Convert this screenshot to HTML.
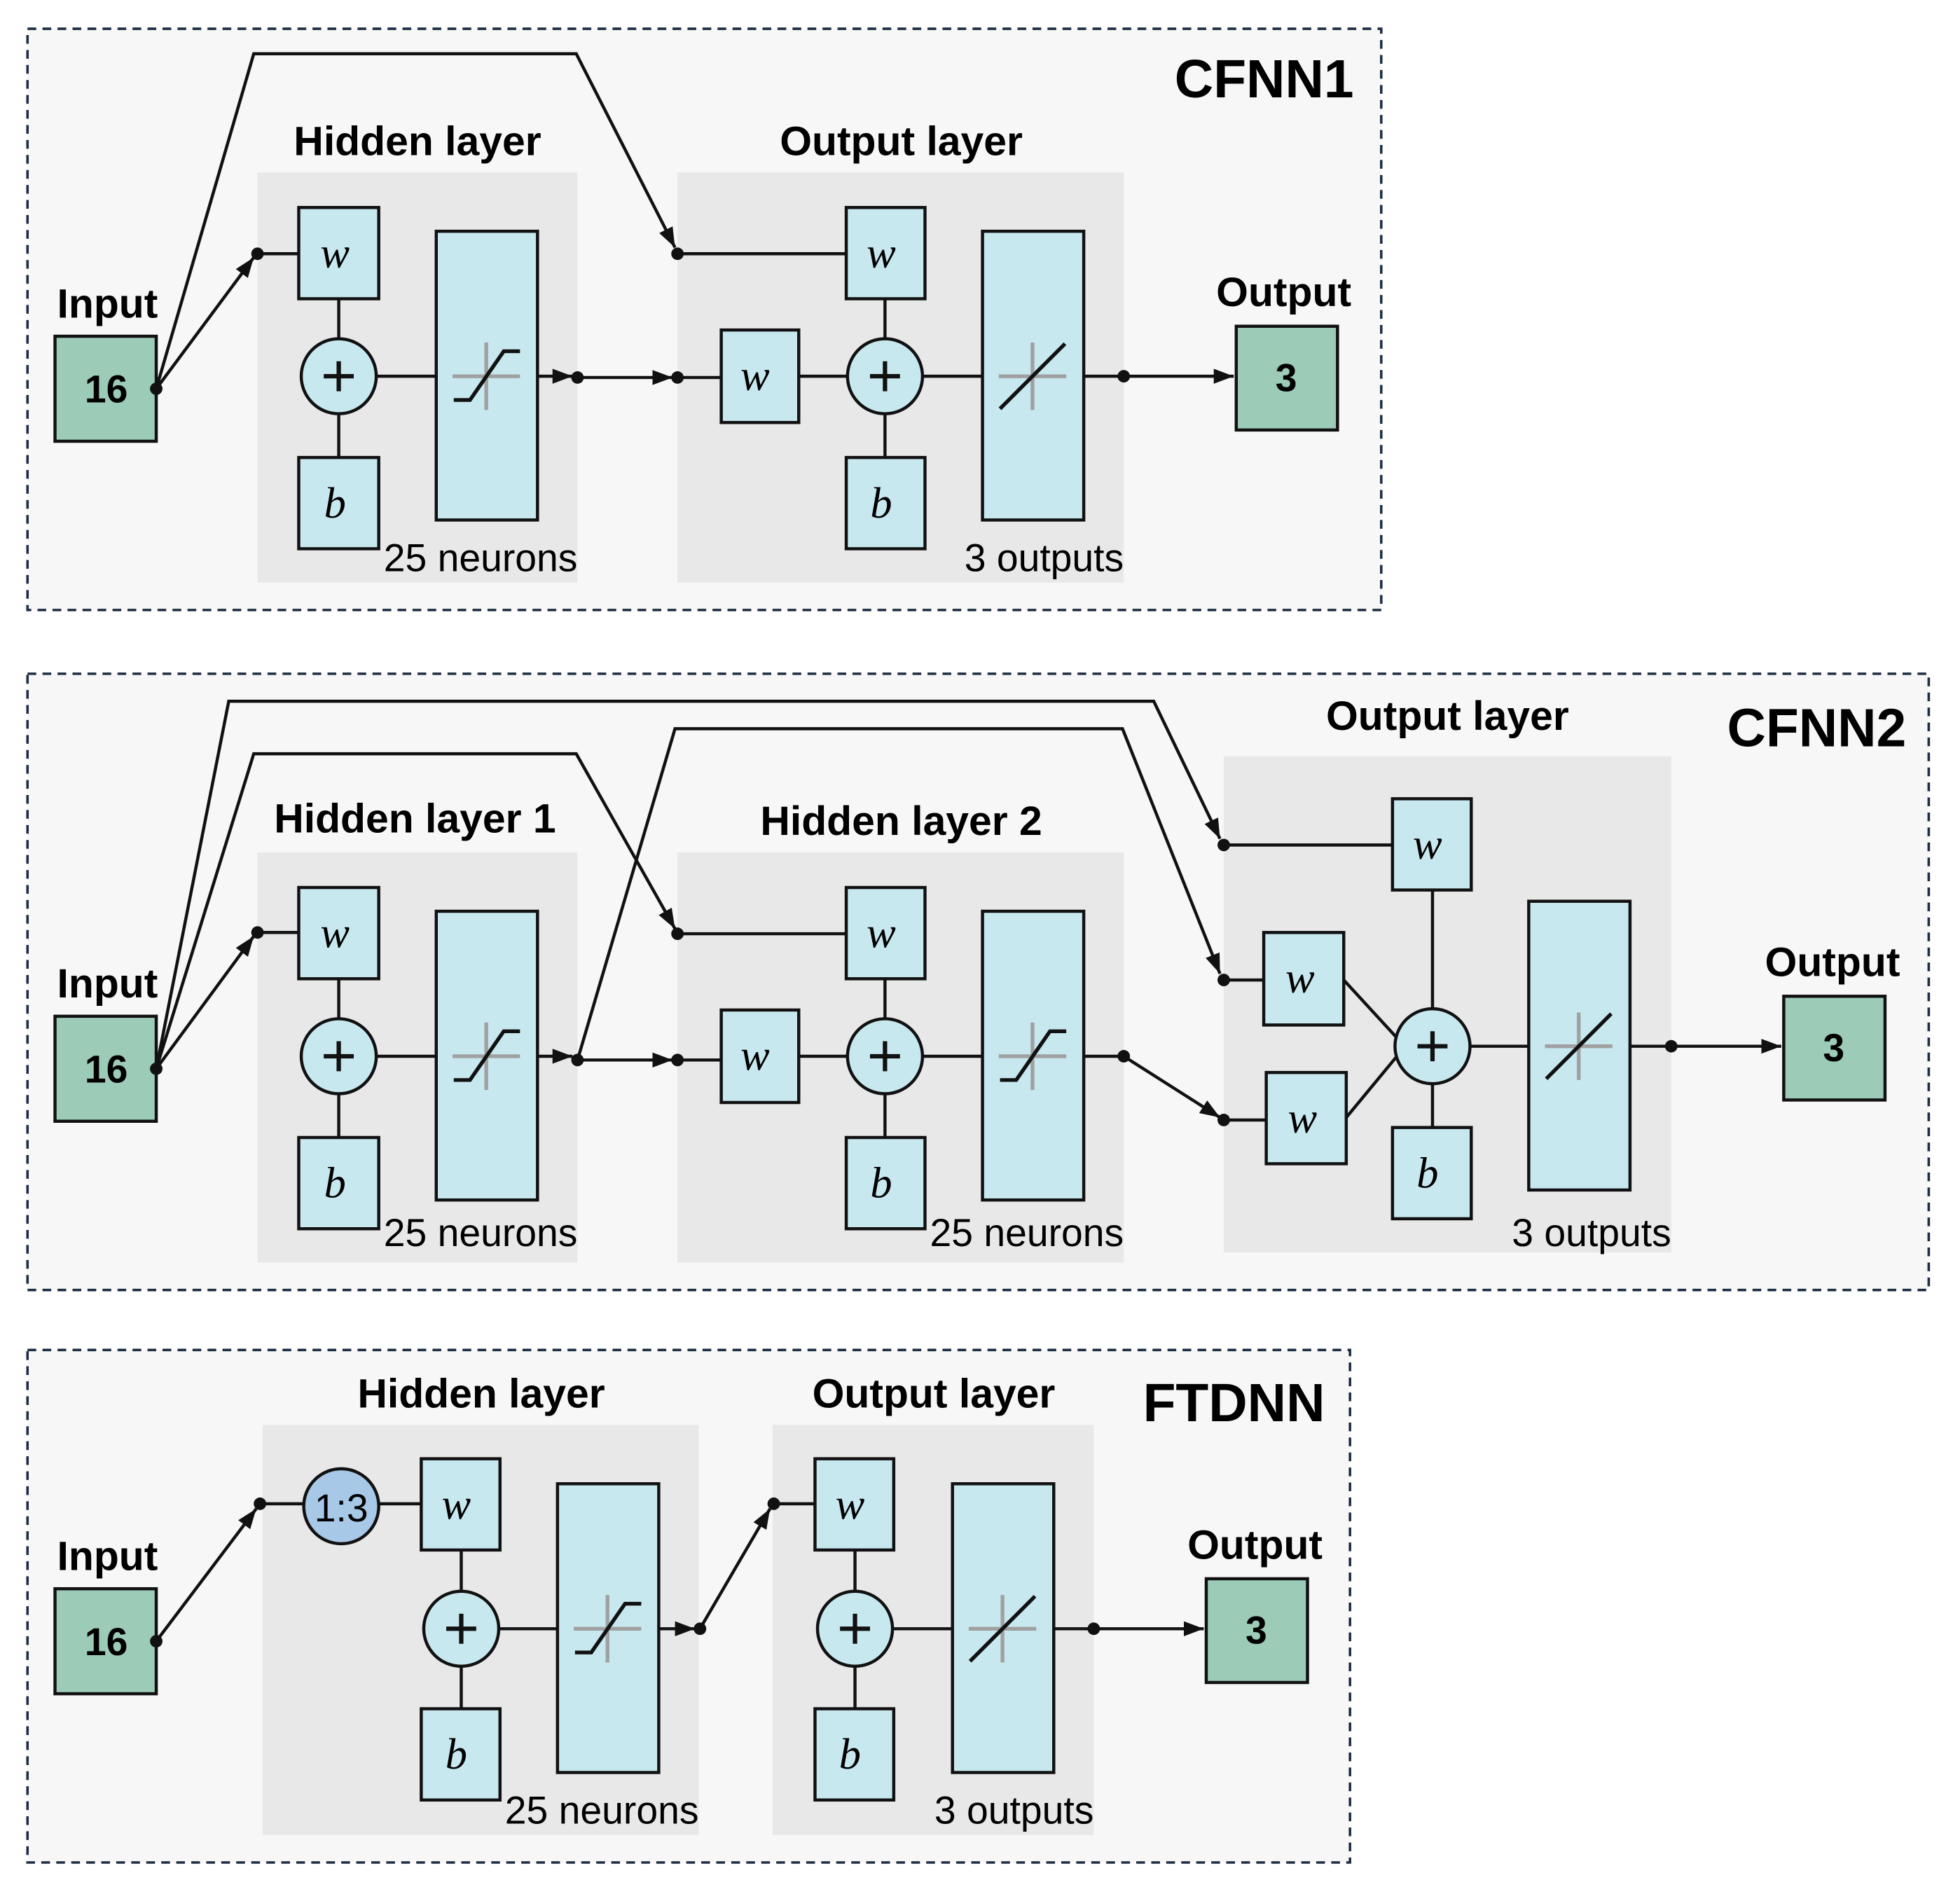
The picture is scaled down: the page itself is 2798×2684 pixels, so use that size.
<!DOCTYPE html>
<html><head><meta charset="utf-8">
<style>
html,body{margin:0;padding:0;background:#fff;}
svg{display:block;}
text{font-family:"Liberation Sans",sans-serif;}
.t{font-weight:bold;font-size:33px;text-anchor:middle;}
.big{font-weight:bold;font-size:43px;text-anchor:end;}
.n{font-size:31px;text-anchor:end;}
.v{font-family:"Liberation Serif",serif;font-style:italic;font-size:35px;text-anchor:middle;}
.box{fill:#c8e8f0;stroke:#111;stroke-width:2.5;}
.inb{fill:#9ccbb8;stroke:#111;stroke-width:2.5;}
.ln{stroke:#111;stroke-width:2.5;fill:none;}
.cr{stroke:#a0a0a0;stroke-width:3;}
.num{font-weight:bold;font-size:31px;text-anchor:middle;}
</style></head><body>
<svg width="2798" height="2684" viewBox="0 0 1568 1504" preserveAspectRatio="none" xmlns="http://www.w3.org/2000/svg">
<defs>
<marker id="a" markerWidth="16" markerHeight="12" refX="16" refY="6" orient="auto" markerUnits="userSpaceOnUse">
<path d="M0,0 L16,6 L0,12 z" fill="#111"/></marker>
<g id="sig"><line class="cr" x1="-27" y1="0" x2="27" y2="0"/><line class="cr" x1="0" y1="-27" x2="0" y2="27"/>
<path d="M-26,19 L-13,19 L14,-20 L27,-20" stroke="#111" stroke-width="3" fill="none"/></g>
<g id="lin"><line class="cr" x1="-27" y1="0" x2="27" y2="0"/><line class="cr" x1="0" y1="-27" x2="0" y2="27"/>
<line x1="-26" y1="26" x2="26" y2="-26" stroke="#111" stroke-width="3"/></g>
<g id="pl"><line x1="-12" y1="0" x2="12" y2="0" stroke="#111" stroke-width="3.5"/><line x1="0" y1="-12" x2="0" y2="12" stroke="#111" stroke-width="3.5"/></g>
</defs>

<!-- CFNN1 -->
<rect x="22" y="23" width="1083" height="465" fill="#f7f7f7" stroke="#1e2d45" stroke-width="2" stroke-dasharray="7,5"/>
<text class="big" x="1083" y="78">CFNN1</text>
<rect x="206" y="138" width="256" height="328" fill="#e8e8e8"/>
<rect x="542" y="138" width="357" height="328" fill="#e8e8e8"/>
<text class="t" x="334" y="124">Hidden layer</text>
<text class="t" x="721" y="124">Output layer</text>
<text class="t" x="86" y="254">Input</text>
<rect class="inb" x="44" y="269" width="81" height="84"/><text class="num" x="85" y="322">16</text>
<text class="t" x="1027" y="245">Output</text>
<rect class="inb" x="989" y="261" width="81" height="83"/><text class="num" x="1029" y="313">3</text>
<polyline class="ln" points="125,311 203,43 461,43 540,198" marker-end="url(#a)"/>
<line class="ln" x1="125" y1="311" x2="203" y2="206" marker-end="url(#a)"/>
<line class="ln" x1="206" y1="203" x2="239" y2="203"/>
<line class="ln" x1="271" y1="239" x2="271" y2="366"/>
<line class="ln" x1="301" y1="301" x2="349" y2="301"/>
<line class="ln" x1="430" y1="301" x2="458" y2="301" marker-end="url(#a)"/>
<line class="ln" x1="462" y1="302" x2="538" y2="302" marker-end="url(#a)"/>
<line class="ln" x1="542" y1="302" x2="577" y2="302"/>
<line class="ln" x1="639" y1="301" x2="678" y2="301"/>
<line class="ln" x1="542" y1="203" x2="677" y2="203"/>
<line class="ln" x1="708" y1="239" x2="708" y2="366"/>
<line class="ln" x1="738" y1="301" x2="786" y2="301"/>
<line class="ln" x1="867" y1="301" x2="987" y2="301" marker-end="url(#a)"/>
<rect class="box" x="239" y="166" width="64" height="73"/><text class="v" x="268" y="214">w</text>
<circle class="box" cx="271" cy="301" r="30"/><use href="#pl" x="271" y="301"/>
<rect class="box" x="239" y="366" width="64" height="73"/><text class="v" x="268" y="414">b</text>
<rect class="box" x="349" y="185" width="81" height="231"/><use href="#sig" x="389" y="301"/>
<rect class="box" x="677" y="166" width="63" height="73"/><text class="v" x="705" y="214">w</text>
<rect class="box" x="577" y="264" width="62" height="74"/><text class="v" x="604" y="312">w</text>
<circle class="box" cx="708" cy="301" r="30"/><use href="#pl" x="708" y="301"/>
<rect class="box" x="677" y="366" width="63" height="73"/><text class="v" x="705" y="414">b</text>
<rect class="box" x="786" y="185" width="81" height="231"/><use href="#lin" x="826" y="301"/>
<text class="n" x="462" y="457">25 neurons</text>
<text class="n" x="899" y="457">3 outputs</text>
<g fill="#111"><circle cx="125" cy="311" r="5"/><circle cx="206" cy="203" r="5"/><circle cx="462" cy="302" r="5"/><circle cx="542" cy="302" r="5"/><circle cx="542" cy="203" r="5"/><circle cx="899" cy="301" r="5"/></g>

<!-- CFNN2 -->
<rect x="22" y="539" width="1521" height="493" fill="#f7f7f7" stroke="#1e2d45" stroke-width="2" stroke-dasharray="7,5"/>
<text class="big" x="1525" y="597">CFNN2</text>
<rect x="206" y="682" width="256" height="328" fill="#e8e8e8"/>
<rect x="542" y="682" width="357" height="328" fill="#e8e8e8"/>
<rect x="979" y="605" width="358" height="397" fill="#e8e8e8"/>
<text class="t" x="332" y="666">Hidden layer 1</text>
<text class="t" x="721" y="668">Hidden layer 2</text>
<text class="t" x="1158" y="584">Output layer</text>
<text class="t" x="86" y="798">Input</text>
<rect class="inb" x="44" y="813" width="81" height="84"/><text class="num" x="85" y="866">16</text>
<text class="t" x="1466" y="781">Output</text>
<rect class="inb" x="1427" y="797" width="81" height="83"/><text class="num" x="1467" y="849">3</text>
<polyline class="ln" points="125,855 183,561 923,561 976,671" marker-end="url(#a)"/>
<polyline class="ln" points="125,855 203,603 461,603 540,743" marker-end="url(#a)"/>
<polyline class="ln" points="462,848 540,583 898,583 976,779" marker-end="url(#a)"/>
<line class="ln" x1="125" y1="855" x2="203" y2="749" marker-end="url(#a)"/>
<line class="ln" x1="206" y1="746" x2="239" y2="746"/>
<line class="ln" x1="271" y1="783" x2="271" y2="910"/>
<line class="ln" x1="301" y1="845" x2="349" y2="845"/>
<line class="ln" x1="430" y1="845" x2="458" y2="845" marker-end="url(#a)"/>
<line class="ln" x1="462" y1="848" x2="538" y2="848" marker-end="url(#a)"/>
<line class="ln" x1="542" y1="848" x2="577" y2="848"/>
<line class="ln" x1="639" y1="845" x2="678" y2="845"/>
<line class="ln" x1="542" y1="747" x2="677" y2="747"/>
<line class="ln" x1="708" y1="783" x2="708" y2="910"/>
<line class="ln" x1="738" y1="845" x2="786" y2="845"/>
<line class="ln" x1="867" y1="845" x2="899" y2="845"/>
<line class="ln" x1="899" y1="845" x2="976" y2="894" marker-end="url(#a)"/>
<line class="ln" x1="979" y1="676" x2="1114" y2="676"/>
<line class="ln" x1="979" y1="784" x2="1011" y2="784"/>
<line class="ln" x1="979" y1="896" x2="1013" y2="896"/>
<line class="ln" x1="1075" y1="784" x2="1120" y2="833"/>
<line class="ln" x1="1077" y1="894" x2="1120" y2="842"/>
<line class="ln" x1="1146" y1="712" x2="1146" y2="902"/>
<line class="ln" x1="1176" y1="837" x2="1223" y2="837"/>
<line class="ln" x1="1304" y1="837" x2="1425" y2="837" marker-end="url(#a)"/>
<rect class="box" x="239" y="710" width="64" height="73"/><text class="v" x="268" y="758">w</text>
<circle class="box" cx="271" cy="845" r="30"/><use href="#pl" x="271" y="845"/>
<rect class="box" x="239" y="910" width="64" height="73"/><text class="v" x="268" y="958">b</text>
<rect class="box" x="349" y="729" width="81" height="231"/><use href="#sig" x="389" y="845"/>
<rect class="box" x="677" y="710" width="63" height="73"/><text class="v" x="705" y="758">w</text>
<rect class="box" x="577" y="808" width="62" height="74"/><text class="v" x="604" y="856">w</text>
<circle class="box" cx="708" cy="845" r="30"/><use href="#pl" x="708" y="845"/>
<rect class="box" x="677" y="910" width="63" height="73"/><text class="v" x="705" y="958">b</text>
<rect class="box" x="786" y="729" width="81" height="231"/><use href="#sig" x="826" y="845"/>
<rect class="box" x="1114" y="639" width="63" height="73"/><text class="v" x="1142" y="687">w</text>
<rect class="box" x="1011" y="746" width="64" height="74"/><text class="v" x="1040" y="794">w</text>
<rect class="box" x="1013" y="858" width="64" height="73"/><text class="v" x="1042" y="906">w</text>
<circle class="box" cx="1146" cy="837" r="30"/><use href="#pl" x="1146" y="837"/>
<rect class="box" x="1114" y="902" width="63" height="73"/><text class="v" x="1142" y="950">b</text>
<rect class="box" x="1223" y="721" width="81" height="231"/><use href="#lin" x="1263" y="837"/>
<text class="n" x="462" y="997">25 neurons</text>
<text class="n" x="899" y="997">25 neurons</text>
<text class="n" x="1337" y="997">3 outputs</text>
<g fill="#111"><circle cx="125" cy="855" r="5"/><circle cx="206" cy="746" r="5"/><circle cx="462" cy="848" r="5"/><circle cx="542" cy="848" r="5"/><circle cx="542" cy="747" r="5"/><circle cx="899" cy="845" r="5"/><circle cx="979" cy="676" r="5"/><circle cx="979" cy="784" r="5"/><circle cx="979" cy="896" r="5"/><circle cx="1337" cy="837" r="5"/></g>

<!-- FTDNN -->
<rect x="22" y="1080" width="1058" height="410" fill="#f7f7f7" stroke="#1e2d45" stroke-width="2" stroke-dasharray="7,5"/>
<text class="big" x="1060" y="1137">FTDNN</text>
<rect x="210" y="1140" width="349" height="328" fill="#e8e8e8"/>
<rect x="618" y="1140" width="257" height="328" fill="#e8e8e8"/>
<text class="t" x="385" y="1126">Hidden layer</text>
<text class="t" x="747" y="1126">Output layer</text>
<text class="t" x="86" y="1256">Input</text>
<rect class="inb" x="44" y="1271" width="81" height="84"/><text class="num" x="85" y="1324">16</text>
<text class="t" x="1004" y="1247">Output</text>
<rect class="inb" x="965" y="1263" width="81" height="83"/><text class="num" x="1005" y="1315">3</text>
<line class="ln" x1="125" y1="1313" x2="205" y2="1207" marker-end="url(#a)"/>
<line class="ln" x1="208" y1="1203" x2="337" y2="1203"/>
<line class="ln" x1="369" y1="1240" x2="369" y2="1367"/>
<line class="ln" x1="399" y1="1303" x2="446" y2="1303"/>
<line class="ln" x1="527" y1="1303" x2="556" y2="1303" marker-end="url(#a)"/>
<line class="ln" x1="560" y1="1303" x2="616" y2="1207" marker-end="url(#a)"/>
<line class="ln" x1="619" y1="1203" x2="652" y2="1203"/>
<line class="ln" x1="684" y1="1240" x2="684" y2="1367"/>
<line class="ln" x1="714" y1="1303" x2="762" y2="1303"/>
<line class="ln" x1="843" y1="1303" x2="963" y2="1303" marker-end="url(#a)"/>
<circle cx="273" cy="1205" r="30" fill="#a8c8e8" stroke="#111" stroke-width="2.5"/><text x="273" y="1217" style="font-size:31px;text-anchor:middle">1:3</text>
<rect class="box" x="337" y="1167" width="63" height="73"/><text class="v" x="365" y="1215">w</text>
<circle class="box" cx="369" cy="1303" r="30"/><use href="#pl" x="369" y="1303"/>
<rect class="box" x="337" y="1367" width="63" height="73"/><text class="v" x="365" y="1415">b</text>
<rect class="box" x="446" y="1187" width="81" height="231"/><use href="#sig" x="486" y="1303"/>
<rect class="box" x="652" y="1167" width="63" height="73"/><text class="v" x="680" y="1215">w</text>
<circle class="box" cx="684" cy="1303" r="30"/><use href="#pl" x="684" y="1303"/>
<rect class="box" x="652" y="1367" width="63" height="73"/><text class="v" x="680" y="1415">b</text>
<rect class="box" x="762" y="1187" width="81" height="231"/><use href="#lin" x="802" y="1303"/>
<text class="n" x="559" y="1459">25 neurons</text>
<text class="n" x="875" y="1459">3 outputs</text>
<g fill="#111"><circle cx="125" cy="1313" r="5"/><circle cx="208" cy="1203" r="5"/><circle cx="560" cy="1303" r="5"/><circle cx="619" cy="1203" r="5"/><circle cx="875" cy="1303" r="5"/></g>
</svg>
</body></html>
